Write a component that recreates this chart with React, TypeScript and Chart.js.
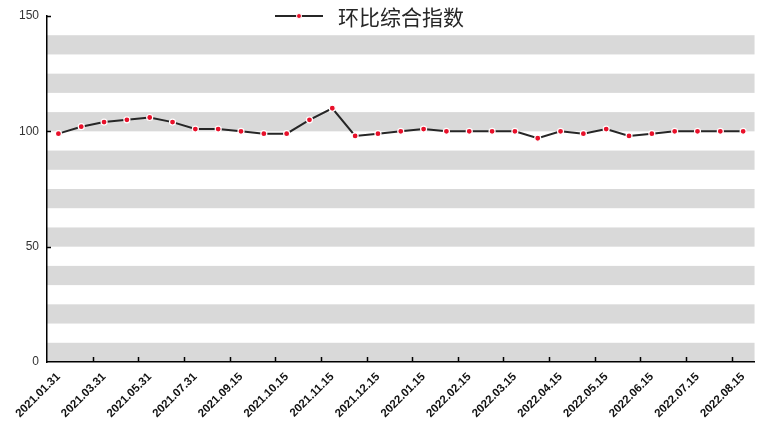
import React, { useEffect, useRef } from "react";
import { Chart, registerables } from "chart.js";

Chart.register(...registerables);

const categories: string[] = [
  "2021.01.31", "2021.02.28", "2021.03.31", "2021.04.30", "2021.05.31", "2021.06.30",
  "2021.07.31", "2021.08.31", "2021.09.15", "2021.09.30", "2021.10.15", "2021.10.31",
  "2021.11.15", "2021.11.30", "2021.12.15", "2021.12.31", "2022.01.15", "2022.01.31",
  "2022.02.15", "2022.02.28", "2022.03.15", "2022.03.31", "2022.04.15", "2022.04.30",
  "2022.05.15", "2022.05.31", "2022.06.15", "2022.06.30", "2022.07.15", "2022.07.31",
  "2022.08.15",
];

const seriesName = "环比综合指数";
const seriesValues: number[] = [
  99, 102, 104, 105, 106, 104, 101, 101, 100, 99, 99, 105, 110, 98, 99, 100,
  101, 100, 100, 100, 100, 97, 100, 99, 101, 98, 99, 100, 100, 100, 100,
];

const yMin = 0;
const yMax = 150;
const yStep = 50;
const bandCount = 18;

const FONT = "'Liberation Sans', Arial, sans-serif";

const bandsPlugin = {
  id: "bands",
  beforeDraw(chart: any) {
    const { ctx, chartArea, scales } = chart;
    const y = scales.y;
    const h = (yMax - yMin) / bandCount;
    ctx.save();
    ctx.fillStyle = "#d9d9d9";
    for (let i = 0; i < bandCount; i += 2) {
      const top = y.getPixelForValue(yMin + (i + 1) * h);
      const bot = y.getPixelForValue(yMin + i * h);
      ctx.fillRect(chartArea.left, top, chartArea.right - chartArea.left, bot - top);
    }
    ctx.restore();
  },
};

const ticksPlugin = {
  id: "innerTicks",
  afterDraw(chart: any) {
    const { ctx, chartArea, scales } = chart;
    const x = scales.x;
    const y = scales.y;
    ctx.save();
    ctx.strokeStyle = "#000";
    ctx.lineWidth = 1.5;
    ctx.beginPath();
    for (let i = 2; i < categories.length; i += 2) {
      const px = Math.round((x.getPixelForValue(i - 1) + x.getPixelForValue(i)) / 2) + 0.5;
      ctx.moveTo(px, chartArea.bottom);
      ctx.lineTo(px, chartArea.bottom - 5);
    }
    for (let v = yMin + yStep; v <= yMax; v += yStep) {
      const py = Math.round(y.getPixelForValue(v)) + 0.5;
      ctx.moveTo(chartArea.left, py);
      ctx.lineTo(chartArea.left + 4, py);
    }
    ctx.stroke();

    // legend
    const lineW = 48;
    const gap = 15;
    ctx.font = `21px 'Noto Sans CJK SC', sans-serif`;
    const tw = ctx.measureText(seriesName).width;
    const total = lineW + gap + tw;
    const cx = chart.width / 2 - 11;
    const sx = cx - total / 2;
    const ly = 16;
    ctx.strokeStyle = "#262626";
    ctx.lineWidth = 2;
    ctx.beginPath();
    ctx.moveTo(sx, ly);
    ctx.lineTo(sx + lineW, ly);
    ctx.stroke();
    ctx.beginPath();
    ctx.arc(sx + lineW / 2, ly, 2.5, 0, Math.PI * 2);
    ctx.fillStyle = "#e8102a";
    ctx.strokeStyle = "#ffffff";
    ctx.lineWidth = 1;
    ctx.fill();
    ctx.stroke();
    ctx.fillStyle = "#262626";
    ctx.textBaseline = "middle";
    ctx.textAlign = "left";
    ctx.fillText(seriesName, sx + lineW + gap, ly + 1);
    ctx.restore();
  },
};

export default function App() {
  const ref = useRef<HTMLCanvasElement | null>(null);
  useEffect(() => {
    if (!ref.current) return;
    const chart = new Chart(ref.current, {
      type: "line",
      data: {
        labels: categories,
        datasets: [
          {
            label: seriesName,
            data: seriesValues,
            borderColor: "#262626",
            borderWidth: 2,
            pointRadius: 3,
            pointBackgroundColor: "#e8102a",
            pointBorderColor: "#ffffff",
            pointBorderWidth: 1.2,
            tension: 0,
            fill: false,
          },
        ],
      },
      options: {
        animation: false,
        responsive: true,
        maintainAspectRatio: false,
        layout: { padding: { top: 16, right: 6, left: 0, bottom: 0 } },
        plugins: {
          legend: { display: false },
          tooltip: { enabled: false },
        },
        scales: {
          x: {
            type: "category",
            offset: true,
            grid: { display: true, drawOnChartArea: false, drawTicks: false, offset: true },
            border: { display: true, color: "#000", width: 1.5 },
            afterFit: (s: any) => {
              s.height = 74;
            },
            ticks: {
              autoSkip: false,
              maxRotation: 45,
              minRotation: 45,
              padding: 8,
              color: "#111",
              font: { family: FONT, size: 11.5, weight: "bold" },
              callback: (_v: any, i: number) => (i % 2 === 0 ? categories[i] : ""),
            },
          },
          y: {
            min: yMin,
            max: yMax,
            grid: { display: true, drawOnChartArea: false, drawTicks: false },
            border: { display: true, color: "#000", width: 1.5 },
            afterFit: (s: any) => {
              s.width = 47;
            },
            ticks: {
              stepSize: yStep,
              padding: 8,
              color: "#333",
              font: { family: FONT, size: 12 },
            },
          },
        },
      },
      plugins: [bandsPlugin, ticksPlugin],
    });
    return () => chart.destroy();
  }, []);
  return (
    <div style={{ position: "fixed", left: 0, top: 0, width: 761, height: 436, background: "#fff" }}>
      <canvas ref={ref} />
    </div>
  );
}
